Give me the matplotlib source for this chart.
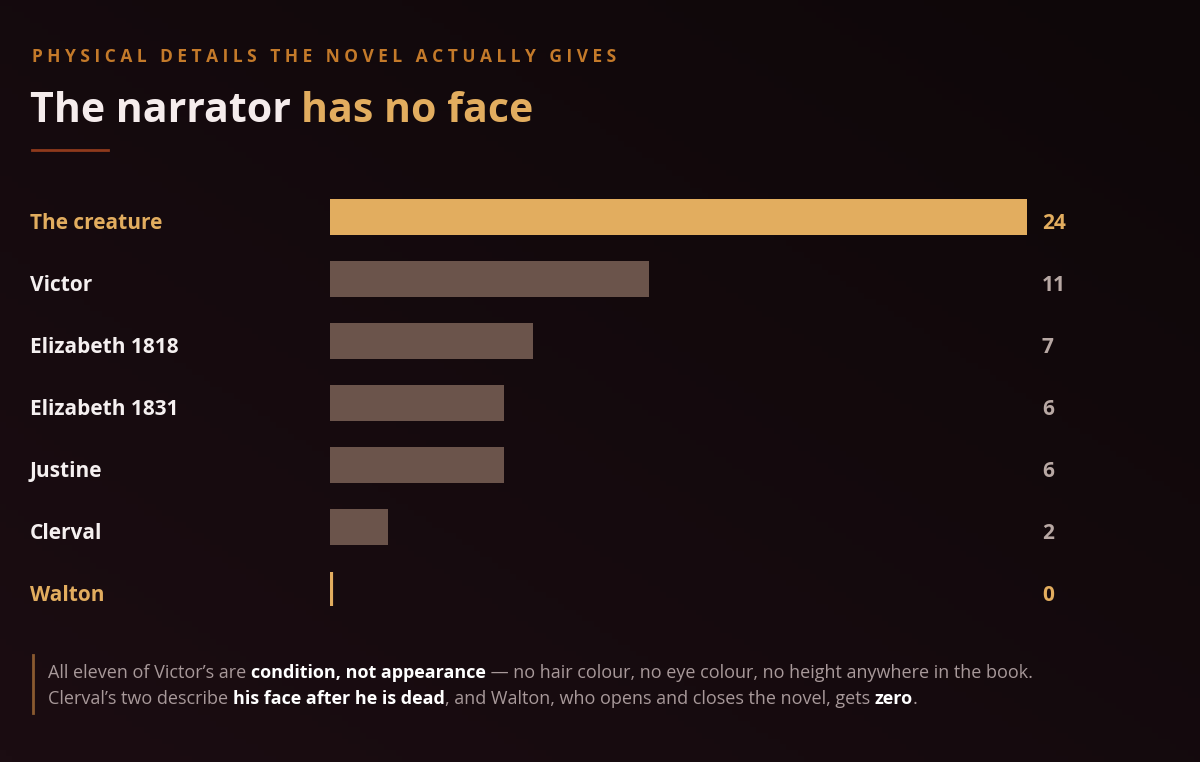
import numpy as np
import matplotlib
matplotlib.use("Agg")
import matplotlib.pyplot as plt
from matplotlib.colors import LinearSegmentedColormap

names = ["The creature", "Victor", "Elizabeth 1818", "Elizabeth 1831", "Justine", "Clerval", "Walton"]
counts = [24, 11, 7, 6, 6, 2, 0]
highlight = [True, False, False, False, False, False, True]

BG = "#140a0d"
GOLD = "#e2ad5f"
BROWN = "#6b544b"
W, H = 1200, 762

plt.rcParams['font.family'] = ['Open Sans', 'DejaVu Sans']
fig = plt.figure(figsize=(12, 7.62), dpi=100)
fig.patch.set_facecolor(BG)

# subtle background gradient
bg = fig.add_axes([0, 0, 1, 1], zorder=-10)
gx, gy = np.meshgrid(np.linspace(0, 1, 200), np.linspace(0, 1, 130))
cmap = LinearSegmentedColormap.from_list("bg", ["#1b0d12", "#0e0709"])
bg.imshow((gx + (1 - gy)) / 2, cmap=cmap, aspect="auto", extent=[0, 1, 0, 1])
bg.axis("off")

def fx(px):
    return px / W

def fy(py):
    return 1 - py / H

# header
fig.text(fx(32), fy(57), "P H Y S I C A L   D E T A I L S   T H E   N O V E L   A C T U A L L Y   G I V E S",
         color="#c47a2a", fontsize=12.5, fontweight="bold", va="center")
t1 = fig.text(fx(30), fy(112), "The narrator ", color="#f5ecec", fontsize=29.5, fontweight="bold", va="center")
fig.canvas.draw()
r = fig.canvas.get_renderer()
bb = t1.get_window_extent(r)
fig.text(bb.x1 / W, fy(112), "has no face", color=GOLD, fontsize=29.5, fontweight="bold", va="center")
fig.add_artist(plt.Line2D([fx(32), fx(108)], [fy(150), fy(150)], color="#8f3a1c", lw=2))

# bars
ax = fig.add_axes([fx(330), fy(620), (1027 - 330) / W, 434 / H])
ax.set_facecolor("none")
u = 24 / 697  # data units per pixel
for i, (n, c, hl) in enumerate(zip(names, counts, highlight)):
    col = GOLD if hl else BROWN
    if c > 0:
        ax.barh(i, c, height=0.565, color=col)
    else:
        ax.plot([0.05, 0.05], [i - 0.28, i + 0.28], color=col, lw=3, solid_capstyle="butt")
    ax.text((30 - 330) * u, i + 0.11, n, ha="left", va="center",
            color=GOLD if hl else "#f5f0f0", fontsize=15, fontweight="bold")
    ax.text((1042 - 330) * u, i + 0.11, str(c), ha="left", va="center",
            color=GOLD if hl else "#b8a8a4", fontsize=15, fontweight="bold")
ax.set_xlim(0, 24)
ax.set_ylim(6.5, -0.5)
ax.axis("off")

# footer
fig.add_artist(plt.Line2D([fx(33), fx(33)], [fy(655), fy(713)], color="#8a5a30", lw=2))
lines = [
    [("All eleven of Victor\u2019s are ", False), ("condition, not appearance", True),
     (" \u2014 no hair colour, no eye colour, no height anywhere in the book.", False)],
    [("Clerval\u2019s two describe ", False), ("his face after he is dead", True),
     (", and Walton, who opens and closes the novel, gets ", False), ("zero", True), (".", False)],
]
for li, segs in enumerate(lines):
    x = 48
    y = fy(673 + li * 26)
    for s, b in segs:
        t = fig.text(fx(x), y, s, color="#ffffff" if b else "#a8999a", fontsize=13,
                     fontweight="bold" if b else "normal", va="center")
        fig.canvas.draw()
        x = t.get_window_extent(r).x1

fig.savefig("out.png", dpi=100, facecolor=BG)
